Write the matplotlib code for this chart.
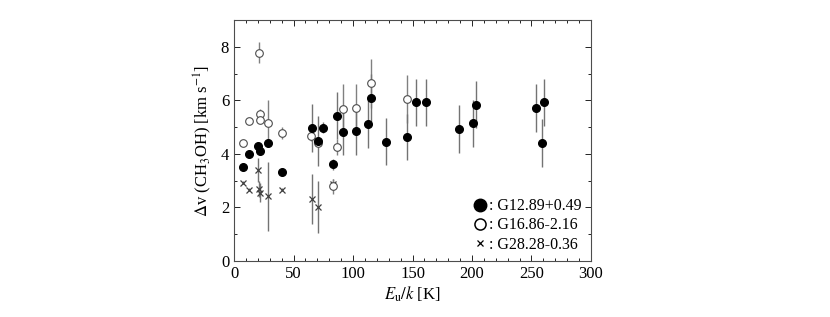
import numpy as np
import matplotlib.pyplot as plt
from matplotlib.ticker import MultipleLocator
from matplotlib.lines import Line2D

plt.rcParams['font.family'] = ['Liberation Serif', 'DejaVu Serif']
plt.rcParams['mathtext.fontset'] = 'stix'

# G12.89+0.49 (filled circles)
g12_x = [7.3, 12.9, 20.4, 22.0, 28.3, 40.6, 65.3, 70.9, 75.1, 83.5, 86.3, 91.3,
         102.8, 112.6, 115.1, 127.7, 145.4, 153.0, 161.0, 189.3, 201.1, 203.1,
         253.5, 258.5, 260.2]
g12_y = [3.50, 4.00, 4.31, 4.11, 4.40, 3.33, 4.97, 4.49, 4.97, 3.61, 5.43, 4.82,
         4.85, 5.10, 6.07, 4.46, 4.63, 5.93, 5.93, 4.92, 5.14, 5.83,
         5.70, 4.41, 5.92]
g12_err = [0.05, 0.05, 0.1, 0.1, 0.15, 0.1, 0.9, 0.93, 0.2, 0.2, 0.87, 0.86,
           0.9, 0.9, 0.9, 0.87, 0.87, 0.88, 0.88, 0.89, 0.88, 0.88,
           0.89, 0.9, 0.88]

# G16.86-2.16 (open circles)
g16_x = [7.3, 12.9, 20.7, 21.6, 21.8, 28.3, 40.6, 65.0, 70.9, 83.5, 86.3, 91.3,
         102.8, 115.1, 145.4]
g16_y = [4.42, 5.23, 7.78, 5.47, 5.25, 5.15, 4.79, 4.67, 4.42, 2.78, 4.25, 5.69,
         5.72, 6.63, 6.06]
g16_err = [0.1, 0.05, 0.38, 0.2, 0.1, 0.85, 0.22, 0.2, 0.1, 0.27, 0.3, 0.9,
           0.9, 0.9, 0.9]

# G28.28-0.36 (crosses)
g28_x = [7.3, 12.9, 20.4, 21.3, 21.8, 28.3, 40.6, 65.3, 70.9, 83.5]
g28_y = [2.92, 2.66, 3.40, 2.70, 2.55, 2.41, 2.66, 2.32, 2.00, 2.86]
g28_err = [0.05, 0.05, 0.45, 0.3, 0.35, 1.3, 0.05, 0.93, 0.97, 0.2]

fig = plt.figure(figsize=(8.3, 3.17), dpi=100)
ax = fig.add_axes([0.282, 0.177, 0.43, 0.76])

ax.errorbar(g28_x, g28_y, yerr=g28_err, fmt='x', color='0.25', ecolor='0.45',
            elinewidth=1, markersize=5, markeredgewidth=0.9, capsize=0)
ax.errorbar(g16_x, g16_y, yerr=g16_err, fmt='o', color='0.3', ecolor='0.5',
            elinewidth=1, markersize=5.5, mfc='white', markeredgewidth=0.8,
            capsize=0)
ax.errorbar(g12_x, g12_y, yerr=g12_err, fmt='o', color='black', ecolor='0.45',
            elinewidth=1, markersize=5.5, capsize=0)

ax.set_xlim(0, 300)
ax.set_ylim(0, 9)
ax.xaxis.set_major_locator(MultipleLocator(50))
ax.xaxis.set_minor_locator(MultipleLocator(10))
ax.yaxis.set_major_locator(MultipleLocator(2))
ax.yaxis.set_minor_locator(MultipleLocator(1))
ax.tick_params(which='both', direction='in', top=True, right=True, labelsize=12)
ax.tick_params(which='major', length=4, width=0.6)
ax.tick_params(which='minor', length=2.5, width=0.6)
for s in ax.spines.values():
    s.set_linewidth(0.8)
    s.set_color('0.3')

ax.set_xlabel(r'$E_\mathrm{u}/k$ [K]', fontsize=12, labelpad=2)
ax.set_ylabel(r'$\Delta$v (CH$_3$OH) [km s$^{-1}$]', fontsize=12, labelpad=5)

handles = [
    Line2D([], [], ls='none', marker='o', color='black', markersize=9),
    Line2D([], [], ls='none', marker='o', color='black', mfc='white',
           markersize=8, markeredgewidth=1.1),
    Line2D([], [], ls='none', marker='x', color='black', markersize=5,
           markeredgewidth=0.9),
]
labels = [': G12.89+0.49', ': G16.86-2.16', ': G28.28-0.36']
ax.legend(handles, labels, loc='lower right', bbox_to_anchor=(1.015, -0.025),
          frameon=False, fontsize=11.5, handlelength=0.8, handletextpad=0.2,
          labelspacing=0.2)

fig.savefig('out.png', dpi=100)
